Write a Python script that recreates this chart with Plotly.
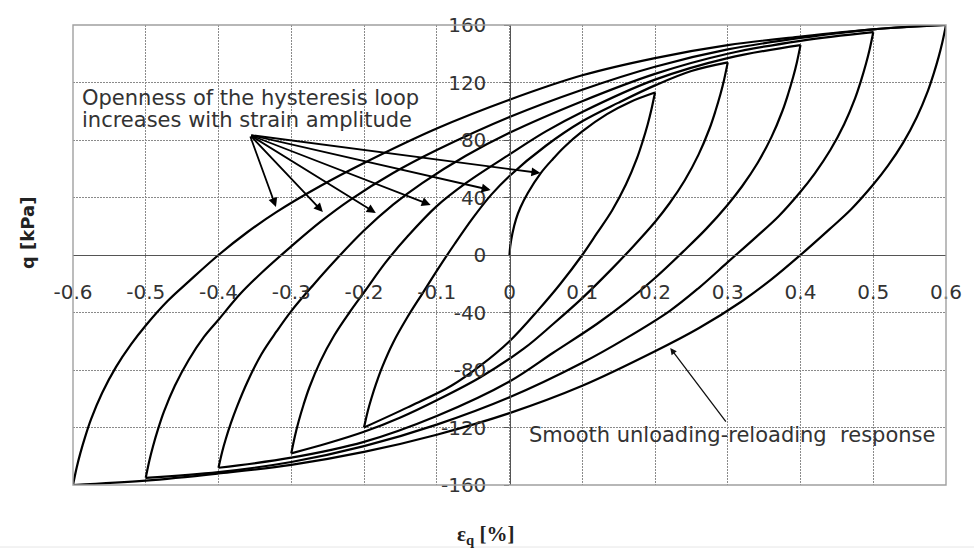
import plotly.graph_objects as go

# ---------------- data ----------------
X_TICKS = [-0.6, -0.5, -0.4, -0.3, -0.2, -0.1, 0.0, 0.1, 0.2, 0.3, 0.4, 0.5, 0.6]
X_TICKTEXT = ["-0.6", "-0.5", "-0.4", "-0.3", "-0.2", "-0.1", "0", "0.1", "0.2", "0.3", "0.4", "0.5", "0.6"]
Y_TICKS = [-160, -120, -80, -40, 0, 40, 80, 120, 160]
Y_TICKTEXT = ["-160", "-120", "-80", "-40", "0", "40", "80", "120", "160"]

# initial loading
L0_x = [0.0, 0.001, 0.004, 0.009, 0.015, 0.025, 0.043, 0.06, 0.075, 0.1, 0.134, 0.166, 0.2]
L0_q = [0, 6, 15, 25, 33, 43, 57, 67, 75, 86, 98, 106.5, 113]

# unloading branches
U1_x = [0.2, 0.195, 0.19, 0.183, 0.175, 0.16, 0.141, 0.12, 0.1, 0.07, 0.04, 0.0, -0.04, -0.08, -0.14, -0.2]
U1_q = [113, 101, 91, 79, 67, 49, 31, 15, 0, -20, -38, -60, -77, -91, -106, -120]

U2_x = [0.3, 0.295, 0.29, 0.283, 0.275, 0.26, 0.241, 0.22, 0.2, 0.17, 0.14, 0.1, 0.06, 0.02, -0.04, -0.1, -0.15, -0.2, -0.25, -0.3]
U2_q = [134, 122, 112, 100, 88, 70, 52, 36, 23, 6, -10, -30, -48, -65, -85, -101, -113, -123, -131, -138]

U3_x = [0.4, 0.395, 0.39, 0.383, 0.375, 0.36, 0.341, 0.32, 0.3, 0.27, 0.24, 0.2, 0.16, 0.12, 0.06, 0.0, -0.1, -0.2, -0.3, -0.4]
U3_q = [146, 134, 124, 112, 100, 82, 64, 48, 35, 18, 3, -16, -33, -48, -68, -88, -112, -130, -141, -148]

U4_x = [0.5, 0.495, 0.49, 0.483, 0.475, 0.46, 0.441, 0.42, 0.4, 0.37, 0.34, 0.3, 0.26, 0.22, 0.16, 0.1, 0.0, -0.1, -0.2, -0.3, -0.4, -0.5]
U4_q = [155, 143, 133, 121, 109, 91, 73, 57, 44, 27, 13, -5, -23, -39, -58, -75, -99, -118, -133, -144, -151, -155]

U5_x = [0.6, 0.595, 0.59, 0.583, 0.575, 0.56, 0.541, 0.52, 0.5, 0.47, 0.44, 0.4, 0.36, 0.32, 0.26, 0.2, 0.1, 0.0, -0.1, -0.2, -0.3, -0.4, -0.5, -0.6]
U5_q = [160, 148, 138, 126, 114, 96, 78, 62, 49, 32, 18, 0, -17, -32, -51, -67, -91, -110, -125, -137, -146, -152, -157, -160]

# reloading branches
R1_x = [-0.2, -0.195, -0.19, -0.183, -0.175, -0.16, -0.14, -0.12, -0.1, -0.075, -0.05, -0.025, 0.0, 0.05, 0.1, 0.15, 0.2, 0.25, 0.3]
R1_q = [-120, -109, -100, -89, -78, -61, -43, -27, -11, 8, 26, 42, 55, 76, 93, 106, 118, 128, 134]

R2_x = [-0.3, -0.295, -0.29, -0.283, -0.275, -0.26, -0.241, -0.22, -0.2, -0.17, -0.14, -0.1, -0.06, 0.0, 0.05, 0.1, 0.2, 0.3, 0.4]
R2_q = [-138, -126, -116, -104, -92, -74, -56, -40, -26, -5, 13, 34, 50, 70, 86, 99.5, 122, 137, 146]

R3_x = [-0.4, -0.395, -0.39, -0.383, -0.375, -0.36, -0.341, -0.32, -0.3, -0.27, -0.24, -0.2, -0.16, -0.12, -0.06, 0.0, 0.1, 0.2, 0.3, 0.4, 0.5]
R3_q = [-148, -137, -128, -117, -106, -88, -69, -53, -39, -21, -4, 17, 35, 50, 69, 85, 107, 126, 140, 149, 155]

R4_x = [-0.5, -0.495, -0.49, -0.483, -0.475, -0.46, -0.441, -0.42, -0.4, -0.37, -0.34, -0.3, -0.26, -0.22, -0.16, -0.1, 0.0, 0.1, 0.2, 0.3, 0.4, 0.5, 0.6]
R4_q = [-155, -143, -133, -121, -109, -91, -73, -57, -45, -27, -12, 6, 23, 38, 57, 73, 96, 115, 131, 143, 151, 157, 160]

R5_x = [-0.6, -0.595, -0.59, -0.583, -0.575, -0.56, -0.541, -0.52, -0.5, -0.47, -0.44, -0.4, -0.36, -0.32, -0.26, -0.2, -0.1, 0.0, 0.1, 0.2, 0.3, 0.4, 0.5, 0.6]
R5_q = [-160, -148, -138, -126, -114, -96, -78, -62, -49, -32, -18, 0, 16, 30, 48, 64, 88, 108, 125, 137, 146, 152, 157, 160]

BRANCHES = [(L0_x, L0_q), (U1_x, U1_q), (R1_x, R1_q), (U2_x, U2_q), (R2_x, R2_q),
            (U3_x, U3_q), (R3_x, R3_q), (U4_x, U4_q), (R4_x, R4_q), (U5_x, U5_q), (R5_x, R5_q)]

# annotation arrows (tip x, tip q) and common tail
FAN_TAIL = (-0.357, 83.5)
FAN_TIPS_X = [-0.321, -0.2565, -0.1838, -0.1084, -0.026, 0.0425]
FAN_TIPS_Q = [33.4, 29.9, 29.2, 34.8, 45.2, 57.0]
SMOOTH_TAIL = (0.299, -116.9)
SMOOTH_TIP = (0.221, -64.7)

TEXT_1 = "Openness of the hysteresis loop"
TEXT_2 = "increases with strain amplitude"
TEXT_3 = "Smooth unloading-reloading\u00a0 response"

# ---------------- figure ----------------
fig = go.Figure()
for xs, qs in BRANCHES:
    fig.add_trace(go.Scatter(x=xs, y=qs, mode="lines",
                             line=dict(color="black", width=2.2, shape="spline", smoothing=1.0),
                             showlegend=False, hoverinfo="skip"))

grid = dict(showgrid=True, gridcolor="#8a8a8a", griddash="2px,1px", gridwidth=1.4, zeroline=False,
            showline=True, linecolor="#555555", linewidth=1.3, anchor="free", position=0.5,
            tickfont=dict(family="DejaVu Sans", size=20, color="#333333"))

fig.update_layout(
    width=974, height=560,
    margin=dict(l=73, r=26, t=25, b=75),
    paper_bgcolor="white", plot_bgcolor="white",
    xaxis=dict(range=[-0.6, 0.6], tickmode="array", tickvals=X_TICKS, ticktext=X_TICKTEXT,
               ticks="", ticklabelstandoff=19, **grid),
    yaxis=dict(range=[-160, 160], tickmode="array", tickvals=Y_TICKS, ticktext=Y_TICKTEXT,
               ticks="outside", ticklen=5, tickcolor="#555555", ticklabelstandoff=14, **grid),
    showlegend=False,
)

# frame
fig.add_shape(type="rect", xref="paper", yref="paper", x0=0, x1=1, y0=0, y1=1,
              line=dict(color="#a0a0a0", width=1.4))
fig.add_shape(type="line", xref="paper", yref="paper", x0=-0.09, x1=1.04, y0=-0.1348, y1=-0.1348,
              line=dict(color="#e6e6e6", width=1))

ann = []
for tx, tq in zip(FAN_TIPS_X, FAN_TIPS_Q):
    ann.append(dict(x=tx, y=tq, xref="x", yref="y", ax=FAN_TAIL[0], ay=FAN_TAIL[1],
                    axref="x", ayref="y", text="", showarrow=True, arrowhead=2,
                    arrowsize=1, arrowwidth=1.8, arrowcolor="black", standoff=0, startstandoff=0))
ann.append(dict(x=SMOOTH_TIP[0], y=SMOOTH_TIP[1], xref="x", yref="y", ax=SMOOTH_TAIL[0], ay=SMOOTH_TAIL[1],
                axref="x", ayref="y", text="", showarrow=True, arrowhead=2,
                arrowsize=1, arrowwidth=1.3, arrowcolor="#111111", standoff=0, startstandoff=0))

txtfont = dict(family="DejaVu Sans", size=21, color="#333333")
ann.append(dict(x=-0.590, y=109.2, xref="x", yref="y", xanchor="left", yanchor="middle",
                text=TEXT_1, showarrow=False, font=txtfont))
ann.append(dict(x=-0.590, y=93.9, xref="x", yref="y", xanchor="left", yanchor="middle",
                text=TEXT_2, showarrow=False, font=txtfont))
ann.append(dict(x=0.0247, y=-125.2, xref="x", yref="y", xanchor="left", yanchor="middle",
                text=TEXT_3, showarrow=False, font=txtfont))

# axis titles
ann.append(dict(x=-0.0514, y=0.548, xref="paper", yref="paper", xanchor="center", yanchor="middle",
                text="<b>q [kPa]</b>", textangle=-90, showarrow=False,
                font=dict(family="DejaVu Sans", size=18, color="#222222")))
ann.append(dict(x=0.472, y=-0.1087, xref="paper", yref="paper", xanchor="center", yanchor="middle",
                text="<b>ε<sub>q</sub> [%]</b>", showarrow=False,
                font=dict(family="Liberation Serif", size=21, color="#222222")))

fig.update_layout(annotations=ann)
fig.write_html("out.html")
